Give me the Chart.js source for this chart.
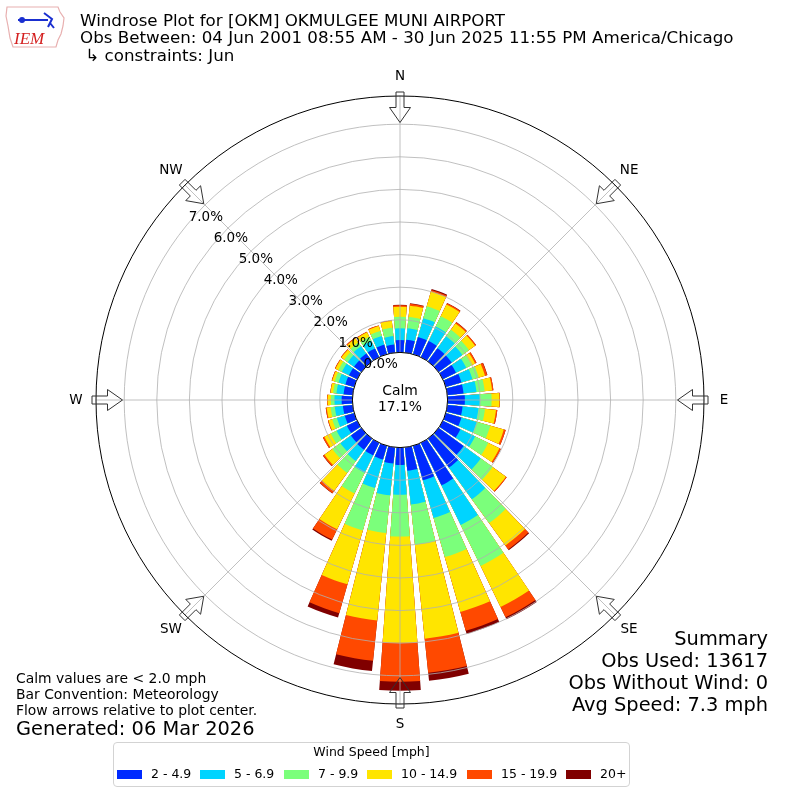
<!DOCTYPE html>
<html>
<head>
<meta charset="utf-8">
<script src="https://cdn.jsdelivr.net/npm/chart.js@4.4.1/dist/chart.umd.min.js"></script>
<style>
  body { margin: 0; background: #fff; }
  #wrap { position: relative; width: 800px; height: 800px; font-family: "DejaVu Sans", sans-serif; color: #000; overflow: hidden; }
  #rose { position: absolute; left: 0; top: 0; }
  .t { position: absolute; white-space: pre; line-height: 1; }
  .big { font-size: 19.4px; }
  .mid { font-size: 16.7px; }
  .sm { font-size: 13.9px; }
  .leg { font-size: 12.5px; }
  .r { right: 32px; text-align: right; }
  #legend { position: absolute; left: 113px; top: 742px; width: 517px; height: 45px; border: 1px solid #d3d3d3; border-radius: 4px; box-sizing: border-box; }
  .sw { position: absolute; width: 25px; height: 9px; top: 770px; }
</style>
</head>
<body>
<div id="wrap">
  <canvas id="rose" width="800" height="800"></canvas>

  <svg style="position:absolute;left:4px;top:4px" width="64" height="46" viewBox="0 0 64 46">
    <path d="M3 3 L54 3 L56 8 L60 14 L59 22 L57 30 L54 36 L52 43 L9 43 L6 34 L4 22 L2 12 Z" fill="none" stroke="#e8b0b0" stroke-width="1.2"/>
    <line x1="14" y1="16" x2="44" y2="16" stroke="#1a2fd0" stroke-width="2"/>
    <circle cx="18" cy="16" r="3" fill="#1a2fd0"/>
    <path d="M40 9 L48 15 L44 23 M46 19 L50 24" fill="none" stroke="#1a2fd0" stroke-width="2"/>
    <text x="10" y="40" font-family="Liberation Serif, serif" font-style="italic" font-size="17" fill="#d42020">IEM</text>
  </svg>

  <div class="t mid" style="left:80px;top:12px">Windrose Plot for [OKM] OKMULGEE MUNI AIRPORT</div>
  <div class="t mid" style="left:80px;top:29px">Obs Between: 04 Jun 2001 08:55 AM - 30 Jun 2025 11:55 PM America/Chicago</div>
  <div class="t mid" style="left:80px;top:47px"> ↳ constraints: Jun</div>

  <div class="t sm" style="left:0;width:800px;text-align:center;top:384px">Calm</div>
  <div class="t sm" id="calm2" style="left:0;width:800px;text-align:center;top:400px"></div>

  <div class="t big r" style="top:629px">Summary</div>
  <div class="t big r" style="top:651px">Obs Used: 13617</div>
  <div class="t big r" style="top:673px">Obs Without Wind: 0</div>
  <div class="t big r" style="top:695px">Avg Speed: 7.3 mph</div>

  <div class="t sm" style="left:16px;top:672px">Calm values are &lt; 2.0 mph</div>
  <div class="t sm" style="left:16px;top:688px">Bar Convention: Meteorology</div>
  <div class="t sm" style="left:16px;top:704px">Flow arrows relative to plot center.</div>
  <div class="t big" style="left:16px;top:719px">Generated: 06 Mar 2026</div>

  <div id="legend"></div>
  <div class="t leg" style="left:113px;width:517px;text-align:center;top:746px">Wind Speed [mph]</div>
  <div id="legItems"></div>
</div>

<script>
// direction bins (degrees, meteorological), 10 degree wide
const directions = [0, 10, 20, 30, 40, 50, 60, 70, 80, 90, 100, 110, 120, 130, 140, 150, 160, 170,
                    180, 190, 200, 210, 220, 230, 240, 250, 260, 270, 280, 290, 300, 310, 320, 330, 340, 350];
const speedBins = ["2 - 4.9", "5 - 6.9", "7 - 9.9", "10 - 14.9", "15 - 19.9", "20+"];
const binColors = ["#002aff", "#00d4ff", "#7bff7b", "#ffe500", "#ff4900", "#800000"];

// frequency (%) per direction for each speed bin
const spd2to5 = [0.38, 0.40, 0.55, 0.55, 0.50, 0.50, 0.45, 0.50, 0.50, 0.53, 0.47, 0.50, 0.60, 0.95, 1.10, 1.45, 1.10, 0.72,
                 0.53, 0.50, 0.44, 0.43, 0.42, 0.40, 0.35, 0.30, 0.30, 0.33, 0.28, 0.28, 0.28, 0.28, 0.30, 0.30, 0.30, 0.25];
const spd5to7 = [0.36, 0.35, 0.60, 0.50, 0.45, 0.40, 0.35, 0.35, 0.40, 0.46, 0.49, 0.49, 0.50, 0.65, 1.20, 1.35, 1.20, 1.04,
                 0.92, 0.98, 0.91, 0.59, 0.43, 0.40, 0.35, 0.25, 0.25, 0.22, 0.22, 0.22, 0.24, 0.24, 0.28, 0.26, 0.28, 0.26];
const spd7to10 = [0.35, 0.35, 0.38, 0.35, 0.25, 0.25, 0.18, 0.20, 0.25, 0.36, 0.20, 0.43, 0.45, 0.45, 0.90, 1.40, 1.25, 1.24,
                  1.28, 1.16, 1.35, 0.71, 0.45, 0.30, 0.20, 0.15, 0.13, 0.11, 0.10, 0.12, 0.12, 0.13, 0.14, 0.14, 0.16, 0.26];
const spd10to15 = [0.31, 0.35, 0.47, 0.40, 0.24, 0.23, 0.12, 0.20, 0.23, 0.24, 0.34, 0.43, 0.38, 0.50, 0.85, 1.40, 1.75, 2.90,
                   3.26, 2.70, 1.72, 1.22, 0.68, 0.30, 0.22, 0.12, 0.12, 0.10, 0.08, 0.08, 0.10, 0.11, 0.15, 0.15, 0.16, 0.21];
const spd15to20 = [0.05, 0.06, 0.05, 0.04, 0.04, 0.04, 0.05, 0.07, 0.04, 0.01, 0.04, 0.06, 0.05, 0.03, 0.15, 0.35, 0.60, 1.05,
                   1.19, 1.24, 0.92, 0.35, 0.09, 0.05, 0.05, 0.02, 0.03, 0.02, 0.01, 0.02, 0.02, 0.02, 0.03, 0.02, 0.02, 0.01];
const spd20plus = [0.01, 0.01, 0.03, 0.01, 0.01, 0.00, 0.00, 0.01, 0.00, 0.00, 0.00, 0.00, 0.00, 0.00, 0.03, 0.07, 0.10, 0.25,
                   0.28, 0.32, 0.14, 0.04, 0.01, 0.01, 0.00, 0.00, 0.00, 0.00, 0.00, 0.00, 0.00, 0.00, 0.00, 0.00, 0.00, 0.00];

const rings = [0, 1, 2, 3, 4, 5, 6, 7];
const ringLabels = ["0.0%", "1.0%", "2.0%", "3.0%", "4.0%", "5.0%", "6.0%", "7.0%"];
const compass = ["N", "NE", "E", "SE", "S", "SW", "W", "NW"];
const calmPct = 17.1;

// radial axis: value 0 sits on the calm circle, outer edge a bit under 8%
const RMIN = -1.46, RMAX = 7.865;
const BAR = 8.2, GAP = 1.8;

document.getElementById("calm2").textContent = calmPct.toFixed(1) + "%";

// legend
let legHtml = "";
const swLeft = [117, 200, 284, 367, 467, 566];
speedBins.forEach((b, k) => {
    legHtml += '<div class="sw" style="left:' + swLeft[k] + 'px;background:' + binColors[k] + '"></div>';
    legHtml += '<div class="t leg" style="left:' + (swLeft[k] + 34) + 'px;top:768px">' + b + '</div>';
});
document.getElementById("legItems").innerHTML = legHtml;

// stack the bins, each bar followed by a thin empty slot as the gap
const series = [spd2to5, spd5to7, spd7to10, spd10to15, spd15to20, spd20plus];
let running = directions.map(() => 0);
const datasets = series.map((vals, k) => {
    running = running.map((v, i) => v + vals[i]);
    const data = [];
    running.forEach(v => { data.push(v); data.push(RMIN); });
    return {
        label: speedBins[k],
        data: data,
        backgroundColor: ctx => ctx.dataIndex % 2 ? "rgba(0,0,0,0)" : binColors[k],
        borderWidth: 0,
        angle: ctx => ctx.dataIndex % 2 ? GAP : BAR
    };
});
const labels = [];
directions.forEach(d => { labels.push(d + "°"); labels.push(""); });

const FONT = '13.5px "DejaVu Sans"';

const roseDecor = {
    id: "roseDecor",
    afterDatasetsDraw(chart) {
        const s = chart.scales.r, ctx = chart.ctx;
        ctx.save();
        ctx.strokeStyle = "#b0b0b0";
        ctx.lineWidth = 0.8;
        for (let k = 0; k < 8; k++) {
            const a = k * Math.PI / 4;
            ctx.beginPath();
            ctx.moveTo(s.xCenter, s.yCenter);
            ctx.lineTo(s.xCenter + s.drawingArea * Math.sin(a), s.yCenter - s.drawingArea * Math.cos(a));
            ctx.stroke();
        }
        ctx.restore();
    },
    afterDraw(chart) {
        const s = chart.scales.r, ctx = chart.ctx;
        const cx = s.xCenter, cy = s.yCenter, R = s.drawingArea;
        const r0 = s.getDistanceFromCenterForValue(0);
        ctx.save();
        // calm circle
        ctx.beginPath();
        ctx.arc(cx, cy, r0, 0, Math.PI * 2);
        ctx.fillStyle = "#fff";
        ctx.fill();
        ctx.strokeStyle = "#000";
        ctx.lineWidth = 1;
        ctx.stroke();

        // flow arrows pointing to the centre
        ctx.strokeStyle = "#333";
        ctx.lineWidth = 1;
        for (let k = 0; k < 8; k++) {
            const a = k * Math.PI / 4;
            const ux = Math.sin(a), uy = -Math.cos(a), px = Math.cos(a), py = Math.sin(a);
            const pts = [[R + 4, -4], [R - 11.5, -4], [R - 11.5, -10.5], [R - 26.5, 0],
                         [R - 11.5, 10.5], [R - 11.5, 4], [R + 4, 4]];
            ctx.beginPath();
            pts.forEach((p, j) => {
                const x = cx + ux * p[0] + px * p[1], y = cy + uy * p[0] + py * p[1];
                if (j === 0) ctx.moveTo(x, y); else ctx.lineTo(x, y);
            });
            ctx.closePath();
            ctx.stroke();
        }

        // compass labels
        ctx.fillStyle = "#000";
        ctx.font = FONT;
        ctx.textAlign = "center";
        ctx.textBaseline = "middle";
        compass.forEach((c, k) => {
            const a = k * Math.PI / 4;
            ctx.fillText(c, cx + (R + 20) * Math.sin(a), cy - (R + 20) * Math.cos(a));
        });

        // ring labels along the 310 degree bearing
        ctx.textAlign = "left";
        ctx.textBaseline = "alphabetic";
        const la = 50 * Math.PI / 180;
        rings.forEach((v, i) => {
            const d = s.getDistanceFromCenterForValue(v);
            ctx.fillText(ringLabels[i], cx - d * Math.sin(la), cy - d * Math.cos(la) - 1.5);
        });
        ctx.restore();
    }
};

new Chart(document.getElementById("rose"), {
    type: "polarArea",
    data: { labels: labels, datasets: datasets },
    options: {
        responsive: false,
        animation: false,
        events: [],
        layout: { padding: 96 },
        plugins: { legend: { display: false }, tooltip: { enabled: false }, title: { display: false } },
        scales: {
            r: {
                min: RMIN,
                max: RMAX,
                startAngle: -BAR / 2,
                ticks: { display: false },
                pointLabels: { display: false },
                angleLines: { display: false },
                grid: {
                    circular: true,
                    z: 1,
                    color: ctx => (ctx.tick && ctx.tick.value >= RMAX) ? "#000" : "#b0b0b0",
                    lineWidth: ctx => (ctx.tick && ctx.tick.value >= RMAX) ? 1 : 0.8
                },
                afterBuildTicks: scale => {
                    scale.ticks = rings.concat([RMAX]).map(v => ({ value: v }));
                }
            }
        }
    },
    plugins: [roseDecor]
});
</script>
</body>
</html>
